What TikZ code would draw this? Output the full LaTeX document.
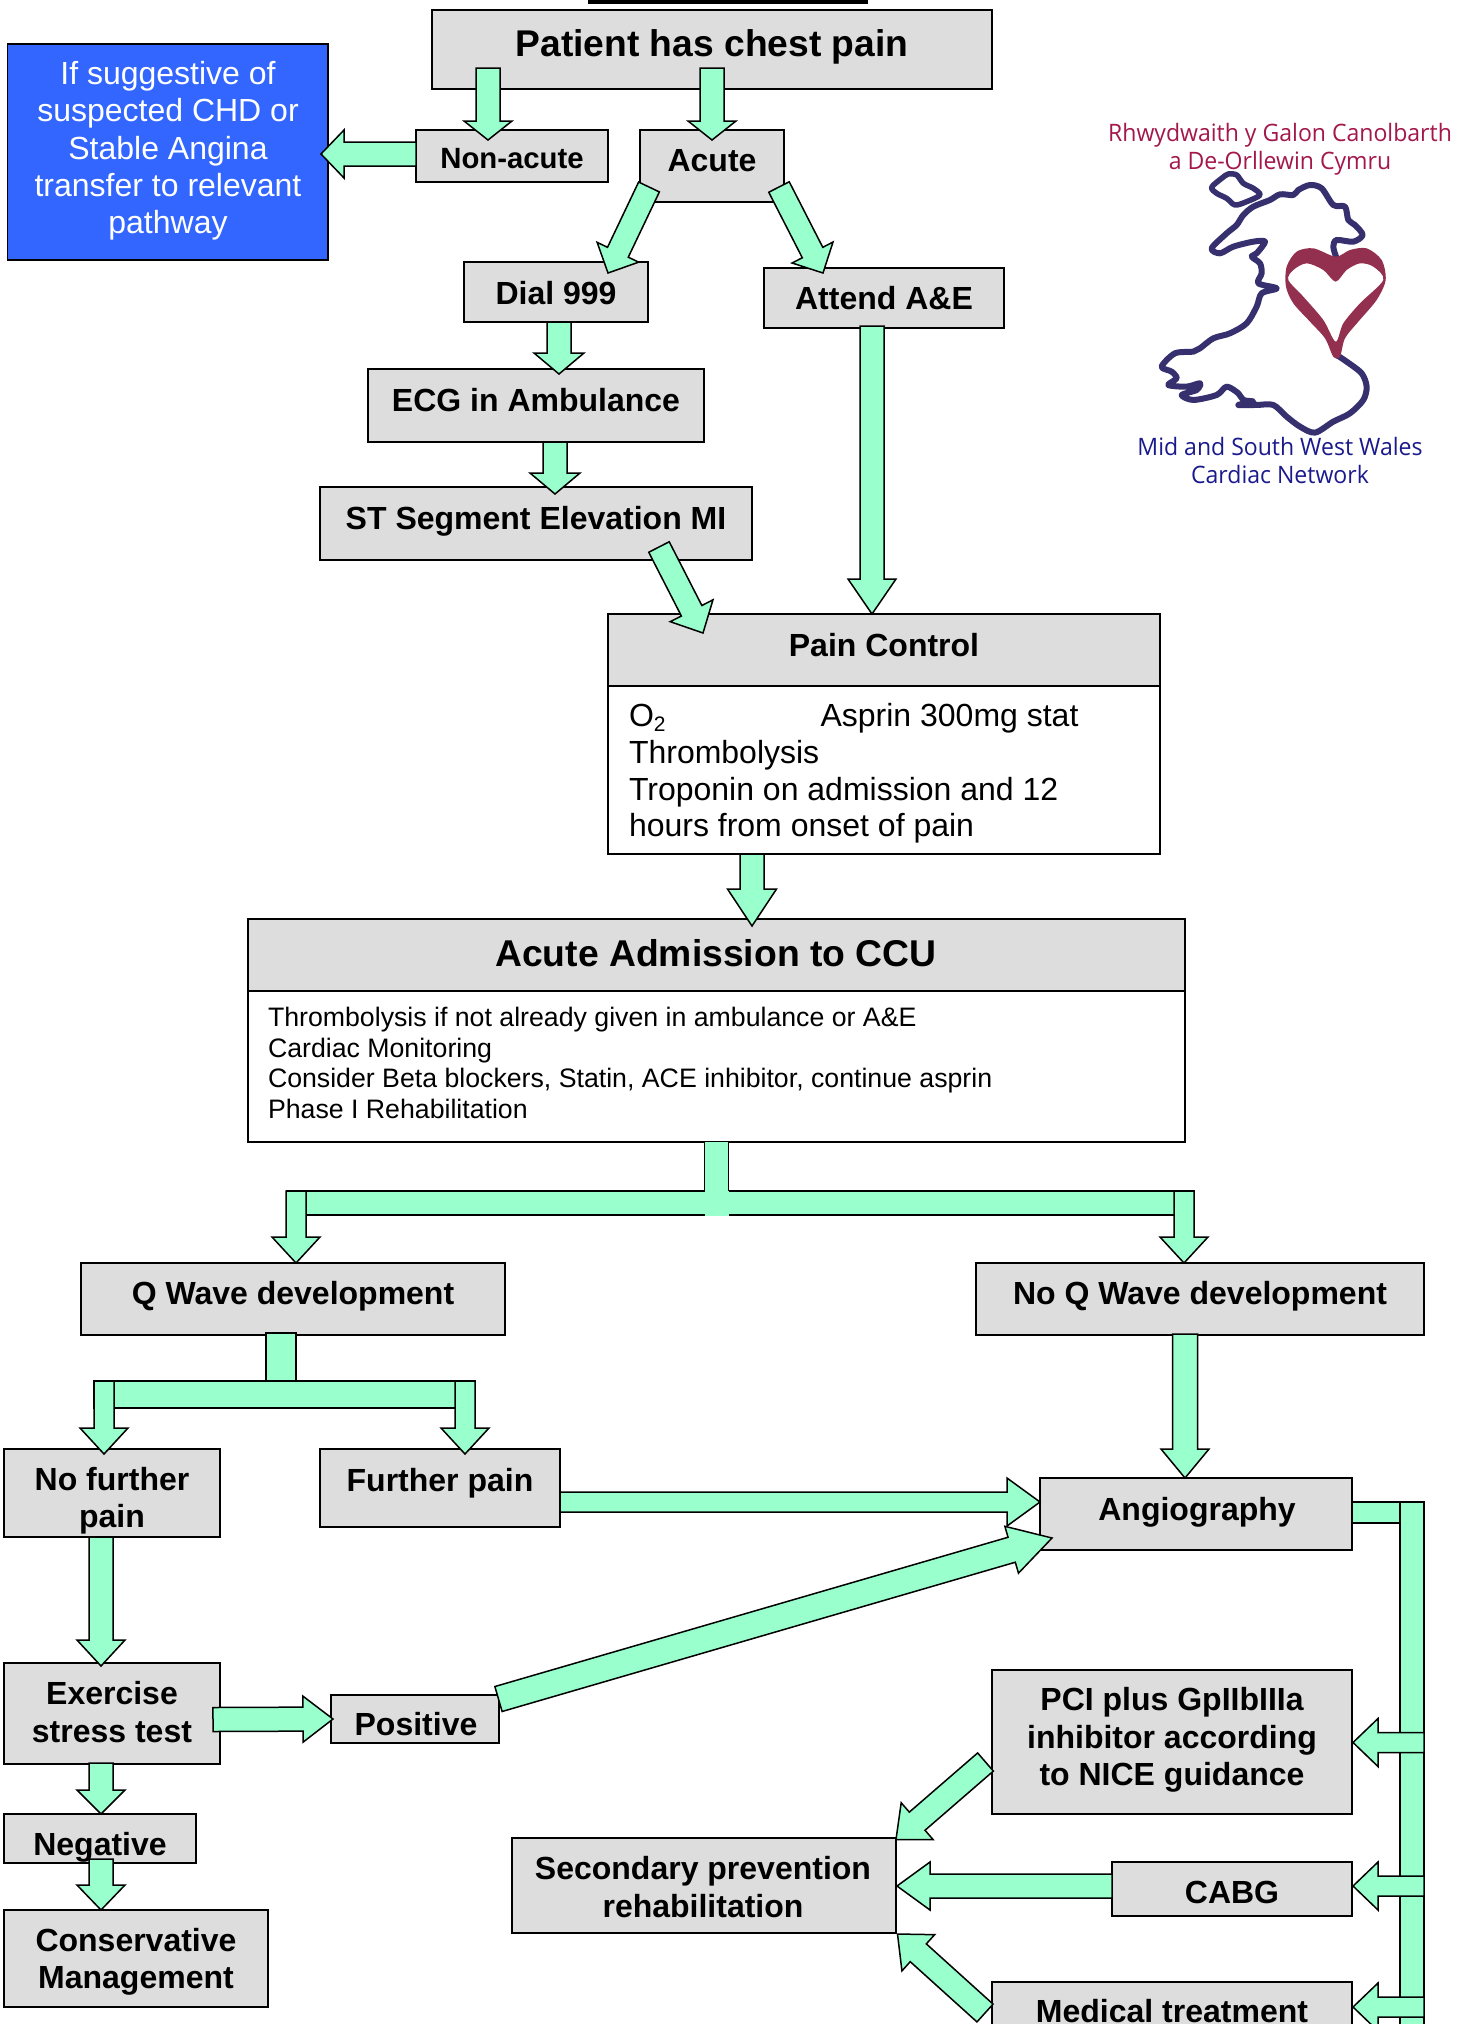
\documentclass[tikz,border=0pt]{standalone}
\usepackage{fontspec}
\setmainfont{Liberation Sans}
\newfontfamily\tah[FakeStretch=0.96]{Open Sans}
\usetikzlibrary{calc}
\definecolor{boxgray}{HTML}{DDDDDD}
\definecolor{arrowgreen}{HTML}{99FFCC}
\definecolor{blueb}{HTML}{3366FF}
\definecolor{welshred}{HTML}{A3174A}
\definecolor{engblue}{HTML}{1A1A8C}
\definecolor{mapblue}{HTML}{36306F}
\definecolor{heartred}{HTML}{933050}
\newcommand{\fz}[2]{\fontsize{#1}{#2}\selectfont}
\newcommand{\bx}[6]{%
  \pgfmathsetmacro{\bxw}{#4-#2}\pgfmathsetmacro{\bxh}{#5-#3}%
  \pgfmathsetmacro{\bxa}{(#2+#4)/2}\pgfmathsetmacro{\bxb}{(#3+#5)/2}%
  \node[boxst,#6,minimum width=\bxw pt,minimum height=\bxh pt] (#1) at (\bxa,\bxb) {};}
\tikzset{
  boxst/.style={draw=black,line width=1.8pt,fill=boxgray,inner sep=0pt,outer sep=0pt,rectangle},
  lab/.style={inner sep=0pt,outer sep=0pt,align=center,anchor=center,font=\bfseries\fz{32}{37.4}},
  ba/.style n args={3}{draw=black,line width=1.5pt,fill=arrowgreen,line join=miter,
    to path={let \p1=(\tikztostart),\p2=(\tikztotarget),\p3=($(\p2)!#3pt!(\p1)$) in
      ($(\p1)!#1pt!90:(\p2)$) -- ($(\p3)!#1pt!90:(\p2)$) -- ($(\p3)!#2pt!90:(\p2)$) -- (\p2)
      -- ($(\p3)!#2pt!-90:(\p2)$) -- ($(\p3)!#1pt!-90:(\p2)$) -- ($(\p1)!#1pt!-90:(\p2)$) -- cycle}},
  bandst/.style={draw=black,line width=1.5pt,fill=arrowgreen},
  x=1pt,y=-1pt
}
\begin{document}
\begin{tikzpicture}
\useasboundingbox (0,0) rectangle (1466,2024);
\fill[black] (588,0) rectangle (868,4);
% boxes
\bx{patient}{432}{10}{992}{89}{}
\bx{blue}{7.5}{44}{328}{260}{fill=blueb}
\bx{nonacute}{416}{130}{608}{182}{}
\bx{acute}{640}{130}{784}{202}{}
\bx{dial}{464}{262}{648}{322}{}
\bx{attend}{764}{268}{1004}{328}{}
\bx{ecg}{368}{369}{704}{442}{}
\bx{st}{320}{487}{752}{560}{}
\bx{pain}{608}{614}{1160}{686}{}
\bx{painbody}{608}{686}{1160}{854}{fill=white}
\bx{adm}{248}{919}{1185}{991}{}
\bx{admbody}{248}{991}{1185}{1142}{fill=white}
\bx{qw}{81}{1263}{505}{1335}{}
\bx{nq}{976}{1263}{1424}{1335}{}
\bx{nf}{4}{1449}{220}{1537}{}
\bx{fp}{320}{1449}{560}{1527}{}
\bx{ang}{1040}{1478}{1352}{1550}{}
\bx{ex}{4}{1663}{220}{1764}{}
\bx{pos}{331}{1695}{499}{1743}{}
\bx{neg}{4}{1814}{196}{1863}{}
\bx{con}{4}{1910}{268}{2007}{}
\bx{sec}{512}{1838}{896}{1933}{}
\bx{pci}{992}{1670}{1352}{1814}{}
\bx{cabg}{1112}{1862}{1352}{1916}{}
\bx{med}{992}{1982}{1352}{2040}{}
% labels
\node[lab,font=\bfseries\fz{37.2}{42}] (t1) at (712,47) {Patient has chest pain};
\node[lab,font=\fz{32}{37.3},text=white] (t2) at (168,151) {If suggestive of\\suspected CHD or\\Stable Angina\\transfer to relevant\\pathway};
\node[lab,font=\bfseries\fz{29.3}{36}] (t3) at (512,159) {Non-acute};
\node[lab] (t4) at (712,161) {Acute};
\node[lab] (t5) at (556,293) {Dial 999};
\node[lab] (t6) at (884,298) {Attend A\&E};
\node[lab] (t7) at (536,400) {ECG in Ambulance};
\node[lab] (t8) at (536,521) {ST Segment Elevation MI};
\node[lab] (t9) at (884,645) {Pain Control};
\node[lab,anchor=west,align=left,font=\fz{32}{36.6}] (t10) at (629,773.5) {O\raisebox{-5pt}{\fz{21}{21}2}\hspace{155pt}Asprin 300mg stat\\Thrombolysis\\Troponin on admission and 12\\hours from onset of pain};
\node[lab,font=\bfseries\fz{37.3}{44}] (t11) at (716,953) {Acute Admission to CCU};
\node[lab,anchor=west,align=left,font=\fz{26.7}{30.8}] (t12) at (268,1063) {Thrombolysis if not already given in ambulance or A\&E\\Cardiac Monitoring\\Consider Beta blockers, Statin, ACE inhibitor, continue asprin\\Phase I Rehabilitation};
\node[lab] (t13) at (293,1296) {Q Wave development};
\node[lab] (t14) at (1200,1296) {No Q Wave development};
\node[lab] (t15) at (112,1501) {No further\\pain};
\node[lab] (t16) at (440,1483) {Further pain};
\node[lab] (t17) at (1197,1512) {Angiography};
\node[lab] (t18) at (112,1712) {Exercise\\stress test};
\node[lab] (t19) at (416,1724) {Positive};
\node[lab] (t20) at (100,1847) {Negative};
\node[lab] (t21) at (136,1962) {Conservative\\Management};
\node[lab] (t22) at (703,1887) {Secondary prevention\\rehabilitation};
\node[lab] (t23) at (1172,1740) {PCI plus GpIIbIIIa\\inhibitor according\\to NICE guidance};
\node[lab] (t24) at (1232,1892) {CABG};
\node[lab] (t25) at (1172,2011) {Medical treatment};
% logo text
\node[lab,font=\tah\fz{24}{28},text=welshred] (t26) at (1280,149) {Rhwydwaith y Galon Canolbarth\\a De-Orllewin Cymru};
\node[lab,font=\tah\fz{24}{28},text=engblue] (t27) at (1280,460) {Mid and South West Wales\\Cardiac Network};
% map
\begin{scope}[shift={(1080,100)},x=0.3333pt,y=-0.3333pt]
\draw[mapblue,line width=5.5pt,line join=round,line cap=round] plot[smooth cycle,tension=0.5] coordinates {(395,262)(425,235)(445,222)(470,225)(490,250)(520,265)(540,285)(500,305)(465,315)(440,295)(410,280)};
\draw[mapblue,line width=6pt,line join=round,line cap=round] plot[smooth,tension=0.5] coordinates {(768,470)(760,440)(770,420)(820,425)(848,405)(825,375)(805,360)(795,320)(760,315)(725,265)(690,255)(655,270)(640,285)(600,283)(570,300)(520,320)(490,345)(470,375)(440,400)(395,445)(420,460)(460,440)(520,425)(555,425)(530,460)(515,470)(540,490)(545,520)(535,550)(590,565)(545,580)(530,620)(500,670)(450,700)(400,715)(360,745)(340,755)(285,760)(245,800)(275,815)(290,835)(265,855)(320,860)(360,850)(350,870)(305,885)(340,900)(410,885)(440,860)(475,880)(490,900)(520,905)(475,915)(530,915)(580,915)(620,950)(660,980)(705,998)(760,965)(810,940)(850,900)(860,860)(845,820)(800,785)(770,765)};
\fill[heartred,even odd rule] plot[smooth cycle,tension=0.5] coordinates {(767,470)(700,445)(650,455)(620,500)(618,560)(640,610)(690,665)(735,715)(760,770)(780,770)(795,715)(835,665)(890,600)(917,540)(905,480)(860,445)(810,450)}
  plot[smooth cycle,tension=0.5] coordinates {(767,545)(730,510)(680,490)(640,510)(625,540)(670,590)(730,660)(767,725)(790,670)(840,610)(910,540)(880,500)(840,490)(800,510)};
\end{scope}
% arrows
\draw[ba={12}{24}{19}] ($(patient.south)+(-224,-21)$) to ($(nonacute.north)+(-24,10)$);
\draw[ba={12}{24}{19}] ($(patient.south)+(0,-21)$) to ($(acute.north)+(0,10)$);
\draw[ba={12}{24}{23}] ($(nonacute.west)+(0,-2)$) to ($(blue.east)+(-7,2)$);
\draw[ba={11.5}{23}{23}] ($(acute.south)+(-63,-15)$) to ($(dial.north)+(52,11)$);
\draw[ba={11.5}{23}{23}] ($(acute.south)+(67,-15)$) to ($(attend.north)+(-61,5)$);
\draw[ba={12}{25}{21}] ($(dial.south)+(3,0)$) to ($(ecg.north)+(23,5)$);
\draw[ba={12}{25}{21}] ($(ecg.south)+(19,0)$) to ($(st.north)+(19,7)$);
\draw[ba={11.5}{24}{25}] ($(st.south)+(123,-13)$) to ($(pain.north)+(-181,19)$);
\draw[ba={12}{24}{35}] ($(attend.south)+(-12,-2)$) to ($(pain.north)+(-12,0)$);
\draw[ba={12}{24.5}{37}] ($(painbody.south)+(-132,0)$) to ($(adm.north)+(35.5,7)$);
% split under admission
\draw[bandst] ($(admbody.south)+(-430,49)$) rectangle ($(admbody.south)+(478,73)$);
\fill[arrowgreen] ($(admbody.south)+(-12,0)$) rectangle ($(admbody.south)+(12,73.8)$);
\draw[black,line width=1.5pt] ($(admbody.south)+(-12,0)$) -- ($(admbody.south)+(-12,49)$);
\draw[black,line width=1.5pt] ($(admbody.south)+(12,0)$) -- ($(admbody.south)+(12,49)$);
\draw[ba={10}{24}{26}] ($(qw.north)+(3,-72)$) to ($(qw.north)+(3,0)$);
\draw[ba={10}{24}{26}] ($(nq.north)+(-16,-72)$) to ($(nq.north)+(-16,0)$);
% split under Q wave
\draw[bandst] ($(qw.south)+(-199,46)$) rectangle ($(qw.south)+(182,73)$);
\draw[bandst] ($(qw.south)+(-27,-2)$) rectangle ($(qw.south)+(3,46)$);
\draw[ba={10}{24}{26}] ($(nf.north)+(-8,-68)$) to ($(nf.north)+(-8,5)$);
\draw[ba={10}{24}{26}] ($(fp.north)+(25,-68)$) to ($(fp.north)+(25,5)$);
\draw[ba={12.5}{24}{29}] ($(nq.south)+(-15,-1)$) to ($(ang.north)+(-11,0)$);
\draw[ba={10}{24}{33}] ($(fp.east)+(0,14)$) to ($(ang.west)+(0,-12)$);
\draw[ba={13}{24.4}{42}] ($(pos.east)+(-0.5,-20)$) to ($(ang.west)+(12,24)$);
\draw[ba={12}{24}{26}] ($(nf.south)+(-11,0)$) to ($(ex.north)+(-11,3)$);
\draw[ba={12}{23}{30}] ($(ex.east)+(-7,6)$) to ($(pos.west)+(2,0)$);
\draw[ba={12}{24}{24}] ($(ex.south)+(-11,-1)$) to ($(neg.north)+(1,0)$);
\draw[ba={12}{24}{25}] ($(neg.south)+(1,-4)$) to ($(con.north)+(-35,0)$);
% right bus
\draw[bandst] ($(ang.east)+(0,-12)$) rectangle ($(ang.east)+(48,9)$);
\draw[bandst] ($(ang.east)+(48,-12)$) rectangle ($(ang.east)+(72,530)$);
\draw[ba={10}{24}{25}] ($(pci.east)+(72,0.5)$) to ($(pci.east)+(1,0.5)$);
\draw[ba={10}{24}{25}] ($(cabg.east)+(72,-3)$) to ($(cabg.east)+(1,-3)$);
\draw[ba={10}{24}{25}] ($(med.east)+(72,-4)$) to ($(med.east)+(1,-4)$);
\draw[ba={12}{24.4}{28}] ($(pci.west)+(-6.5,20)$) to ($(sec.north east)+(0,1.5)$);
\draw[ba={12}{24}{33}] ($(cabg.west)+(0,-3)$) to ($(sec.east)+(1,0.5)$);
\draw[ba={12}{24.4}{28}] ($(med.west)+(-7,2)$) to ($(sec.south east)+(1.5,1)$);
\end{tikzpicture}
\end{document}
